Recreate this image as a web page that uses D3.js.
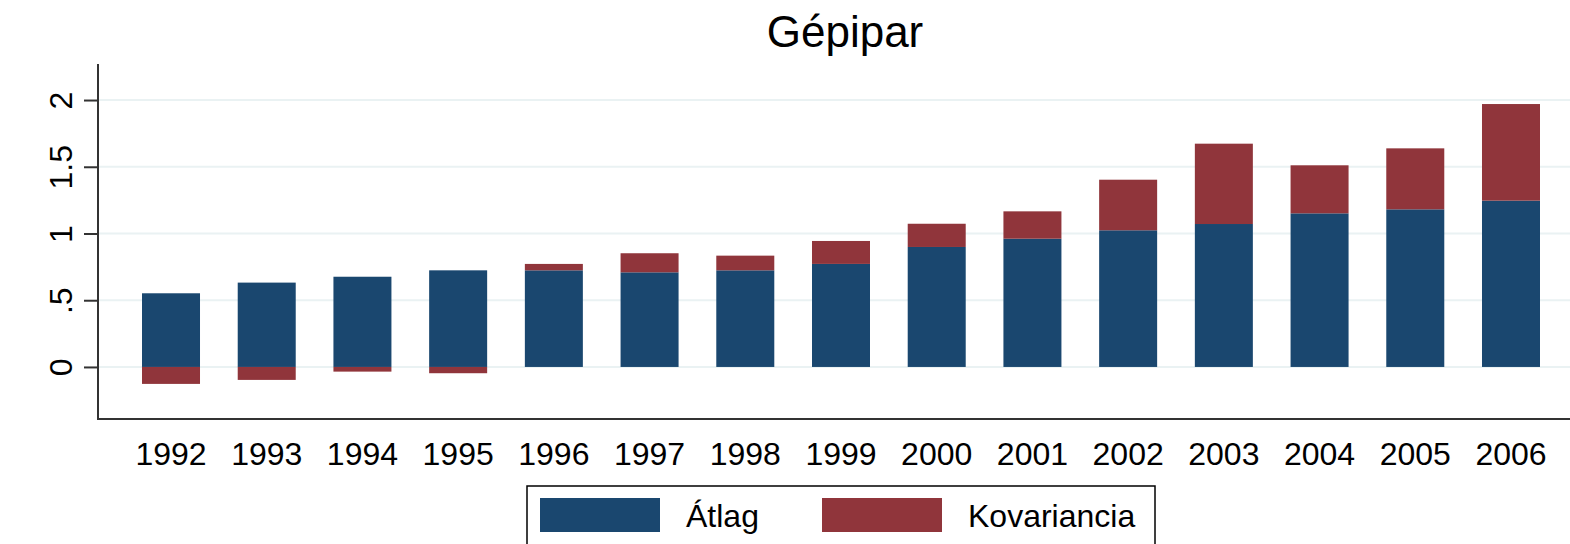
<!DOCTYPE html>
<html>
<head>
<meta charset="utf-8">
<script src="https://cdn.jsdelivr.net/npm/d3@7"></script>
<style>
  html, body { margin: 0; padding: 0; background: #fff; }
  svg { display: block; }
  text { font-family: "Liberation Sans", Arial, sans-serif; fill: #000; }
</style>
</head>
<body>
<div id="chart"></div>
<script>
const title = "Gépipar";
const years = ["1992","1993","1994","1995","1996","1997","1998","1999","2000","2001","2002","2003","2004","2005","2006"];
const atlag = [0.552, 0.632, 0.676, 0.724, 0.724, 0.709, 0.724, 0.772, 0.899, 0.961, 1.024, 1.071, 1.151, 1.181, 1.246];
const kovariancia = [-0.127, -0.097, -0.035, -0.047, 0.048, 0.143, 0.110, 0.172, 0.174, 0.205, 0.379, 0.602, 0.360, 0.457, 0.724];
const yTicks = [0, 0.5, 1, 1.5, 2];
const yTickLabels = ["0", ".5", "1", "1.5", "2"];
const seriesNames = ["Átlag", "Kovariancia"];
const colors = ["#1a476f", "#90353b"];

const W = 1570, H = 544;
const svg = d3.select("#chart").append("svg").attr("width", W).attr("height", H);

const plotLeft = 98, plotRight = 1570, plotTop = 64, plotBottom = 419;

const y = d3.scaleLinear().domain([-0.39, 2.27]).range([plotBottom, plotTop]);
const x = d3.scaleBand().domain(years).range([123.15, 1558.85]).paddingInner(0.394).paddingOuter(0.197);

// gridlines
svg.append("g").selectAll("line").data(yTicks).join("line")
  .attr("x1", plotLeft + 1).attr("x2", plotRight)
  .attr("y1", d => y(d)).attr("y2", d => y(d))
  .attr("stroke", "#eaf2f3").attr("stroke-width", 2);

// stacked bars: atlag from 0, kovariancia on top (positive) or below 0 (negative)
const bars = svg.append("g");
bars.selectAll("rect.a").data(years).join("rect").attr("class", "a")
  .attr("x", d => x(d)).attr("width", x.bandwidth())
  .attr("y", (d, i) => y(atlag[i])).attr("height", (d, i) => y(0) - y(atlag[i]))
  .attr("fill", colors[0]);
bars.selectAll("rect.k").data(years).join("rect").attr("class", "k")
  .attr("x", d => x(d)).attr("width", x.bandwidth())
  .attr("y", (d, i) => kovariancia[i] >= 0 ? y(atlag[i] + kovariancia[i]) : y(0))
  .attr("height", (d, i) => Math.abs(y(0) - y(kovariancia[i])))
  .attr("fill", colors[1]);

// y axis
const yAxis = d3.axisLeft(y).tickValues(yTicks).tickFormat((d, i) => yTickLabels[i]).tickSize(14).tickSizeOuter(0);
const gy = svg.append("g").attr("transform", `translate(${plotLeft},0)`).call(yAxis);
gy.select(".domain").remove();
gy.selectAll(".tick line").attr("stroke", "#333").attr("stroke-width", 2);
gy.selectAll(".tick text")
  .attr("x", null).attr("dy", null)
  .attr("transform", "translate(-26,0) rotate(-90)")
  .attr("text-anchor", "middle")
  .style("font-size", "32px")
  .style("font-family", "'Liberation Sans', Arial, sans-serif")
  .attr("fill", "#000");
svg.append("line").attr("x1", plotLeft).attr("x2", plotLeft).attr("y1", plotTop).attr("y2", plotBottom + 1)
  .attr("stroke", "#333").attr("stroke-width", 2);

// x axis
const xAxis = d3.axisBottom(x).tickSize(0).tickSizeOuter(0);
const gx = svg.append("g").attr("transform", `translate(0,${plotBottom})`).call(xAxis);
gx.select(".domain").remove();
gx.selectAll(".tick text")
  .attr("y", 46).attr("dy", null)
  .style("font-size", "32px")
  .style("font-family", "'Liberation Sans', Arial, sans-serif")
  .attr("fill", "#000");
svg.append("line").attr("x1", plotLeft - 1).attr("x2", plotRight).attr("y1", plotBottom).attr("y2", plotBottom)
  .attr("stroke", "#333").attr("stroke-width", 2);

// title
svg.append("text").attr("x", 845).attr("y", 47).attr("text-anchor", "middle")
  .style("font-size", "44px").text(title);

// legend
const lg = svg.append("g");
lg.append("rect").attr("x", 527).attr("y", 486).attr("width", 628).attr("height", 70)
  .attr("fill", "#fff").attr("stroke", "#000").attr("stroke-width", 1.5);
const legX = [540, 822];
seriesNames.forEach((name, i) => {
  lg.append("rect").attr("x", legX[i]).attr("y", 498).attr("width", 120).attr("height", 34).attr("fill", colors[i]);
  lg.append("text").attr("x", legX[i] + 146).attr("y", 527).style("font-size", "32px").text(name);
});
</script>
</body>
</html>
